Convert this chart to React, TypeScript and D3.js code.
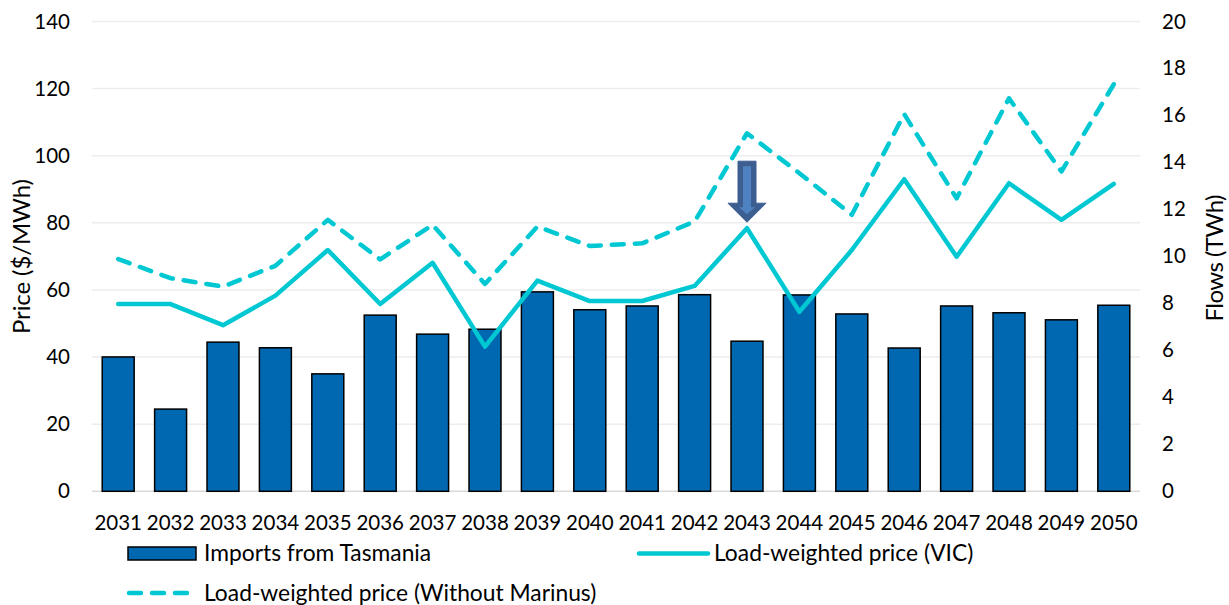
import React from "react";
import * as d3 from "d3";

const years = ["2031","2032","2033","2034","2035","2036","2037","2038","2039","2040","2041","2042","2043","2044","2045","2046","2047","2048","2049","2050"];
const importsTWh = [5.72, 3.5, 6.35, 6.11, 5.0, 7.5, 6.69, 6.9, 8.49, 7.73, 7.89, 8.37, 6.39, 8.36, 7.55, 6.1, 7.89, 7.6, 7.3, 7.92];
const vicPrice = [55.8, 55.8, 49.5, 58.3, 71.9, 55.8, 68.1, 43.1, 62.8, 56.7, 56.7, 61.2, 78.4, 53.5, 71.9, 93.0, 69.9, 91.8, 80.9, 91.6];
const noMarinusPrice = [69.2, 63.5, 61.0, 67.2, 80.9, 69.1, 79.4, 61.8, 78.9, 73.1, 73.9, 80.4, 106.7, 94.8, 82.4, 112.4, 87.3, 117.1, 95.3, 121.3];
const priceTicks = [0, 20, 40, 60, 80, 100, 120, 140];
const flowTicks = [0, 2, 4, 6, 8, 10, 12, 14, 16, 18, 20];
const arrowYear = "2043";

const W = 1229, H = 605;
const L = 92, R = 1140, T = 21.5, B = 491.3;
const FONT = "Lato, 'Open Sans', sans-serif";
const BAR = "#0067B1";
const LINE = "#00C8D2";

export default function App() {
  const x = d3.scaleBand<string>().domain(years).range([L, R]).paddingInner(0.39).paddingOuter(0.195);
  const yP = d3.scaleLinear().domain([0, 140]).range([B, T]);
  const yF = d3.scaleLinear().domain([0, 20]).range([B, T]);
  const cx = (i: number) => (x(years[i]) as number) + x.bandwidth() / 2;
  const lineGen = d3.line<number>().x((_, i) => cx(i)).y((d) => yP(d));

  const ai = years.indexOf(arrowYear);
  const ax = cx(ai);
  const tipY = yP(vicPrice[ai]) - 6;
  const topY = tipY - 61;
  const headY = tipY - 19;
  const outer = [[ax - 9, topY], [ax + 9, topY], [ax + 9, headY], [ax + 19, headY], [ax, tipY], [ax - 19, headY], [ax - 9, headY]];
  const inner = [[ax - 4, topY + 5], [ax + 4, topY + 5], [ax + 4, headY + 4], [ax + 8, headY + 4], [ax, tipY - 8], [ax - 8, headY + 4], [ax - 4, headY + 4]];
  const pts = (p: number[][]) => p.map((q) => q.join(",")).join(" ");

  return (
    <svg width={W} height={H} style={{ position: "absolute", left: 0, top: 0, background: "#fff" }} fontFamily={FONT}>
      {priceTicks.map((t) => (
        <line key={"g" + t} x1={L} x2={R} y1={yP(t)} y2={yP(t)} stroke={t === 0 ? "#d9d9d9" : "#ededed"} strokeWidth={1.5} />
      ))}
      {priceTicks.map((t) => (
        <text key={"lp" + t} x={70} y={yP(t) + 7} fontSize={20.5} textAnchor="end" fill="#000">{t}</text>
      ))}
      {flowTicks.map((t) => (
        <text key={"lf" + t} x={1162} y={yF(t) + 7} fontSize={20.5} textAnchor="start" fill="#000">{t}</text>
      ))}
      {years.map((yr, i) => (
        <rect key={"b" + yr} x={x(yr)} y={yF(importsTWh[i])} width={x.bandwidth()} height={B - yF(importsTWh[i])} fill={BAR} stroke="#000" strokeWidth={1.5} />
      ))}
      {years.map((yr) => (
        <text key={"x" + yr} x={(x(yr) as number) + x.bandwidth() / 2} y={530} fontSize={20.5} textAnchor="middle" fill="#000">{yr}</text>
      ))}
      <path d={lineGen(noMarinusPrice) || ""} fill="none" stroke={LINE} strokeWidth={4.5} strokeDasharray="12 11" strokeLinecap="round" strokeLinejoin="round" />
      <path d={lineGen(vicPrice) || ""} fill="none" stroke={LINE} strokeWidth={4.5} strokeLinejoin="round" strokeLinecap="round" />
      <polygon points={pts(outer)} fill="#3C5E91" stroke="#3C5E91" strokeWidth={1} />
      <polygon points={pts(inner)} fill="#4F82C0" />
      <text transform="translate(30,256.5) rotate(-90)" fontSize={24} textAnchor="middle" textLength={155} lengthAdjust="spacing" fill="#000">Price ($/MWh)</text>
      <text transform="translate(1223,258) rotate(-90)" fontSize={24} textAnchor="middle" textLength={127} lengthAdjust="spacing" fill="#000">Flows (TWh)</text>
      {/* legend */}
      <rect x={128} y={547} width={68} height={13} fill={BAR} stroke="#000" strokeWidth={1.5} />
      <text x={204} y={561} fontSize={22.8} fill="#000">Imports from Tasmania</text>
      <line x1={639} x2={708} y1={553.5} y2={553.5} stroke={LINE} strokeWidth={4.5} strokeLinecap="round" />
      <text x={714} y={561} fontSize={22.8} fill="#000">Load-weighted price (VIC)</text>
      <line x1={129} x2={190} y1={593} y2={593} stroke={LINE} strokeWidth={4.5} strokeDasharray="12 11" strokeLinecap="round" />
      <text x={204} y={600.5} fontSize={22.8} fill="#000">Load-weighted price (Without Marinus)</text>
    </svg>
  );
}
